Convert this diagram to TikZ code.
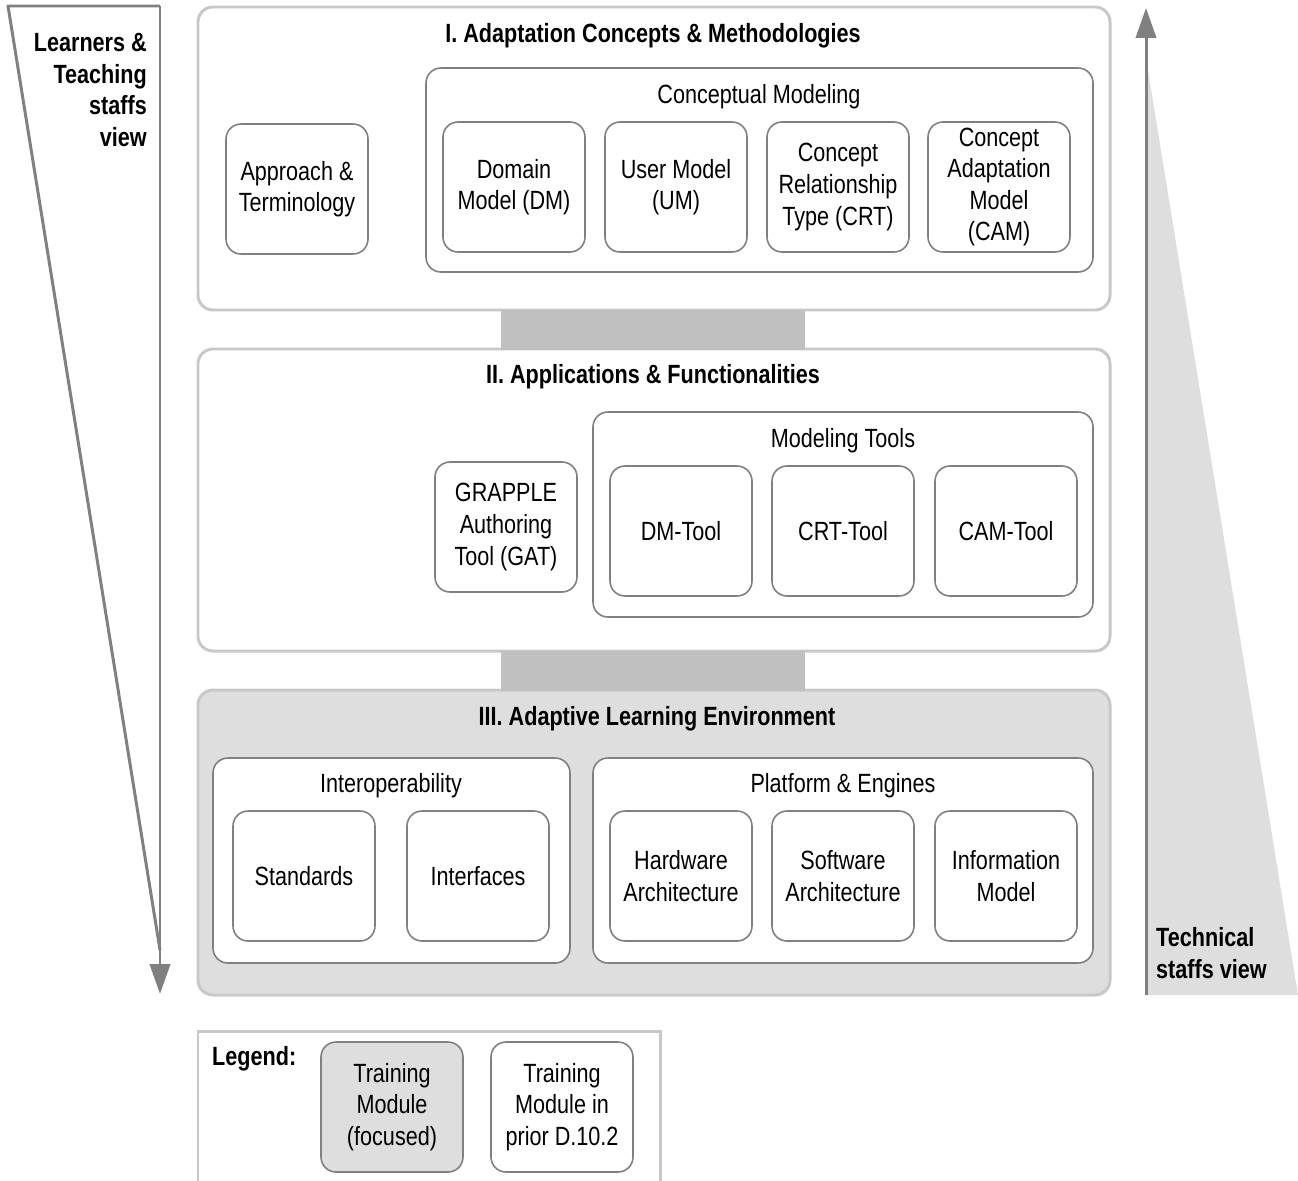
\documentclass[tikz,border=0pt]{standalone}
\usepackage{fontspec}
\setmainfont{Liberation Sans}[FakeStretch=0.82]
\usetikzlibrary{arrows.meta}
\definecolor{edgegray}{HTML}{808080}
\definecolor{layergray}{HTML}{C8C8C8}
\definecolor{bargray}{HTML}{C0C0C0}
\definecolor{fillgray}{HTML}{DEDEDE}

\tikzset{
    layer/.style={draw=layergray, line width=1.7pt, rounded corners=8.5pt},
    group/.style={draw=edgegray, line width=0.9pt, rounded corners=8.5pt, fill=white},
    module/.style={draw=edgegray, line width=0.9pt, rounded corners=8.5pt, fill=white,
        minimum width=2.84cm, minimum height=2.6cm, align=center, inner sep=0pt},
    heading/.style={font=\fontsize{15}{18}\selectfont\bfseries},
    viewarrow/.style={draw=edgegray, line width=1.7pt,
        -{Triangle[length=17pt,width=11.5pt]}}
}

\begin{document}
\begin{tikzpicture}[x=0.02cm, y=-0.02cm, font=\fontsize{15}{18}\selectfont]
    \useasboundingbox (0,0) rectangle (1298,1180);

    % views
    \fill[fillgray] (1146,58) -- (1146,995) -- (1298,995) -- cycle;
    \draw[edgegray, line width=1.7pt, line join=round] (160,950) -- (8,6) -- (160,6);
    \coordinate (ltop) at (160,6);
    \coordinate (lbot) at (160,994);
    \draw[viewarrow] (ltop) -- (lbot);
    \coordinate (rbot) at (1146,995);
    \coordinate (rtop) at (1146,8);
    \draw[viewarrow] (rbot) -- (rtop);
    \node[heading, anchor=east, align=right] (learners) at (153,90)
        {Learners \&\\Teaching\\staffs\\view};
    \node[heading, anchor=west, align=left] (technical) at (1150,953)
        {Technical\\staffs view};

    % layers
    \draw[layer, fill=white] (198,7) rectangle (1110,310);
    \draw[layer, fill=white] (198,349) rectangle (1110,651);
    \draw[layer, fill=fillgray] (198,690) rectangle (1110,995);
    \fill[bargray] (501,310) rectangle (805,350);
    \fill[bargray] (501,651) rectangle (805,691);
    \node[heading] (conc) at (653,36) {I. Adaptation Concepts \& Methodologies};
    \node[heading] (appl) at (653,377) {II. Applications \& Functionalities};
    \node[heading] (env) at (657,719) {III. Adaptive Learning Environment};

    % I
    \node[module] (appr) at (297,189) {Approach \&\\Terminology};
    \draw[group] (426,68) rectangle (1093,272);
    \node (cmod) at (759,97) {Conceptual Modeling};
    \foreach \name/\x/\txt in {dm/514/{Domain\\Model (DM)}, um/676/{User Model\\(UM)},
            crt/838/{Concept\\Relationship\\Type (CRT)},
            cam/999/{Concept\\Adaptation\\Model\\(CAM)}}
        \node[module] (\name) at (\x,187) {\txt};

    % II
    \node[module] (gat) at (506,527) {GRAPPLE\\Authoring\\Tool (GAT)};
    \draw[group] (593,412) rectangle (1093,617);
    \node (mtools) at (843,441) {Modeling Tools};
    \foreach \name/\x/\txt in {dmtool/681/DM-Tool, crttool/843/CRT-Tool, camtool/1006/CAM-Tool}
        \node[module] (\name) at (\x,531) {\txt};

    % III
    \draw[group] (213,758) rectangle (570,963);
    \node (interop) at (391,786) {Interoperability};
    \draw[group] (593,758) rectangle (1093,963);
    \node (platf) at (843,786) {Platform \& Engines};
    \foreach \name/\x/\txt in {std/304/Standards, intf/478/Interfaces,
            hw/681/{Hardware\\Architecture}, sw/843/{Software\\Architecture},
            info/1006/{Information\\Model}}
        \node[module] (\name) at (\x,876) {\txt};

    % legend
    \draw[draw=layergray, line width=1.7pt] (198,1190) -- (198,1031) -- (660,1031) -- (660,1190);
    \node[heading, anchor=west] (legend) at (206,1059) {Legend:};
    \node[module, fill=fillgray] (focused) at (392,1107) {Training\\Module\\(focused)};
    \node[module] (prior) at (562,1107) {Training\\Module in\\prior D.10.2};
\end{tikzpicture}
\end{document}
